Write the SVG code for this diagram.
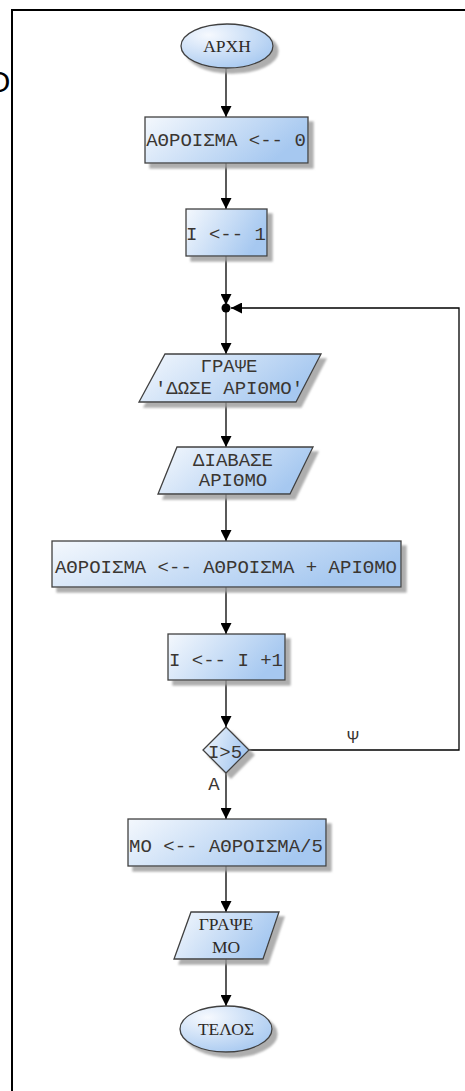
<svg xmlns="http://www.w3.org/2000/svg" width="465" height="1091" viewBox="0 0 465 1091">
<defs>
<linearGradient id="g" x1="0" y1="0" x2="1" y2="0.35">
<stop offset="0" stop-color="#f4f8fd"/>
<stop offset="1" stop-color="#a6c8f0"/>
</linearGradient>
<radialGradient id="ge" cx="0.3" cy="0.25" r="0.85">
<stop offset="0" stop-color="#f6f9fe"/>
<stop offset="1" stop-color="#a6c8f0"/>
</radialGradient>
<filter id="sh" x="-20%" y="-20%" width="150%" height="160%">
<feDropShadow dx="5" dy="5" stdDeviation="1" flood-color="#9a9a9a" flood-opacity="0.8"/>
</filter>
<marker id="ar" viewBox="0 0 10 10" refX="10" refY="5" markerWidth="11" markerHeight="11" markerUnits="userSpaceOnUse" orient="auto">
<path d="M0,0 L10,5 L0,10 Z" fill="#000"/>
</marker>
</defs>
<style>
.n{fill:url(#g);stroke:#404040;stroke-width:1.3;filter:url(#sh)}
.e{fill:url(#ge);stroke:#404040;stroke-width:1.3;filter:url(#sh)}
.m{font-family:"Liberation Mono","Courier New",monospace;font-size:19px;fill:#3a3632;text-anchor:middle}
.s{font-family:"Liberation Serif","Times New Roman",serif;font-size:17.5px;fill:#2e2a26;text-anchor:middle}
.c{fill:none;stroke:#000;stroke-width:1.3;marker-end:url(#ar)}
.f{fill:none;stroke:#000;stroke-width:2}
</style>
<rect width="465" height="1091" fill="#fff"/>
<g id="frame">
<path class="f" d="M12,1091 V10 H465"/>
<text x="-13" y="92" font-family="Liberation Sans, Arial, sans-serif" font-size="30" fill="#000">O</text>
</g>
<g id="connectors">
<path class="c" d="M226,68 V117"/>
<path class="c" d="M226,163 V209"/>
<path class="c" d="M226,256 V305"/>
<path class="c" d="M226,308 V354"/>
<path class="c" d="M226,402 V447"/>
<path class="c" d="M226,494 V541"/>
<path class="c" d="M226,587 V634"/>
<path class="c" d="M226,680 V727"/>
<path class="c" d="M226,773 V819"/>
<path class="c" d="M249,750 H459 V308 H231"/>
<path class="c" d="M226,866 V912"/>
<path class="c" d="M226,959 V1006"/>
<circle cx="226" cy="308" r="4.5" fill="#000"/>
<text class="m" x="214" y="790" font-size="17">Α</text>
<text class="m" x="353" y="743" font-size="17">Ψ</text>
</g>
<g id="start">
<ellipse class="e" cx="227" cy="46" rx="46" ry="22"/>
<text class="s" x="227" y="52">ΑΡΧΗ</text>
</g>
<g id="sum0">
<rect class="n" x="145" y="117" width="163" height="46"/>
<text class="m" x="226" y="146">ΑΘΡΟΙΣΜΑ &lt;-- 0</text>
</g>
<g id="i1">
<rect class="n" x="186" y="209" width="81" height="47"/>
<text class="m" x="226" y="240">I &lt;-- 1</text>
</g>
<g id="write1">
<polygon class="n" points="165,354 321,354 296,402 139,402"/>
<text class="m" x="229" y="372">ΓΡΑΨΕ</text>
<text class="m" x="229" y="394">'ΔΩΣΕ ΑΡΙΘΜΟ'</text>
</g>
<g id="read">
<polygon class="n" points="177,447 313,447 290,494 158,494"/>
<text class="m" x="233" y="466">ΔΙΑΒΑΣΕ</text>
<text class="m" x="233" y="486">ΑΡΙΘΜΟ</text>
</g>
<g id="sumadd">
<rect class="n" x="52" y="541" width="349" height="46"/>
<text class="m" x="226" y="573">ΑΘΡΟΙΣΜΑ &lt;-- ΑΘΡΟΙΣΜΑ + ΑΡΙΘΜΟ</text>
</g>
<g id="inc">
<rect class="n" x="168" y="634" width="117" height="46"/>
<text class="m" x="226" y="666">I &lt;-- I +1</text>
</g>
<g id="cond">
<polygon class="n" points="226,727 249,750 226,773 203,750"/>
<text class="m" x="225" y="758" font-size="18">I&gt;5</text>
</g>
<g id="avg">
<rect class="n" x="128" y="819" width="198" height="47"/>
<text class="m" x="226" y="852">ΜΟ &lt;-- ΑΘΡΟΙΣΜΑ/5</text>
</g>
<g id="write2">
<polygon class="n" points="191,912 279,912 263,959 174,959"/>
<text class="s" x="226" y="930">ΓΡΑΨΕ</text>
<text class="s" x="226" y="953">ΜΟ</text>
</g>
<g id="end">
<ellipse class="e" cx="226" cy="1029" rx="46" ry="23"/>
<text class="s" x="226" y="1035">ΤΕΛΟΣ</text>
</g>
</svg>
